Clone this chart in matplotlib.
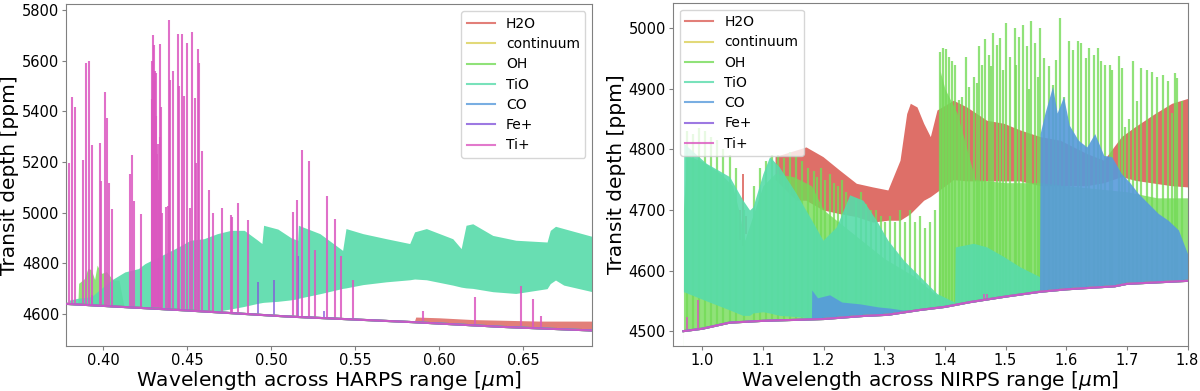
import matplotlib
matplotlib.use("Agg")
import matplotlib.pyplot as plt

# colours: seaborn "hls" palette, 7 species
species = ["H2O", "continuum", "OH", "TiO", "CO", "Fe+", "Ti+"]
colors = ["#db5f57", "#dbd057", "#74db57", "#57dbaa", "#579adb", "#8557db", "#db57c0"]
col = dict(zip(species, colors))

# ---------------- HARPS range (left panel) ----------------
harps_wl = [0.378, 0.450, 0.510, 0.584, 0.638, 0.691]
harps_cont = [4640, 4614, 4590, 4568, 4549, 4535]

tio_harps_wl = [0.380, 0.385, 0.393, 0.405, 0.413, 0.421, 0.425, 0.429, 0.437, 0.445,
                0.452, 0.460, 0.468, 0.476, 0.484, 0.492, 0.4945, 0.4955, 0.504, 0.512,
                0.5158, 0.5162, 0.529, 0.5425, 0.5445, 0.5546, 0.5685, 0.5824, 0.5853,
                0.5923, 0.608, 0.613, 0.6159, 0.6199, 0.6318, 0.6455, 0.6641, 0.6660,
                0.6691, 0.674, 0.691]
tio_harps_hi = [4655, 4662, 4668, 4734, 4766, 4779, 4799, 4812, 4838, 4865,
                4891, 4897, 4917, 4930, 4930, 4891, 4878, 4950, 4935, 4900,
                4891, 4950, 4917, 4851, 4937, 4917, 4897, 4878, 4924,
                4937, 4897, 4858, 4950, 4956, 4910, 4891, 4884, 4930,
                4946, 4937, 4906]
tio_harps_lo = [4639, 4637, 4634, 4630, 4627, 4625, 4623, 4622, 4619, 4617,
                4614, 4612, 4611, 4620, 4630, 4642, 4645, 4646, 4650, 4656,
                4660, 4662, 4680, 4701, 4703, 4716, 4727, 4735, 4738,
                4735, 4714, 4706, 4703, 4701, 4688, 4681, 4700, 4720,
                4734, 4714, 4688]

oh_harps_wl = [0.3850, 0.3855, 0.389, 0.391, 0.393, 0.395, 0.3965, 0.399, 0.402, 0.406, 0.4095, 0.4125]
oh_harps_hi = [4636, 4721, 4740, 4780, 4775, 4736, 4793, 4760, 4767, 4734, 4734, 4628]

h2o_harps_wl = [0.585, 0.586, 0.600, 0.620, 0.640, 0.660, 0.691]
h2o_harps_hi = [4568, 4588, 4585, 4578, 4575, 4572, 4572]

tip_harps_wl = [0.3800, 0.3814, 0.3836, 0.3883, 0.3901, 0.3915, 0.3933, 0.3982, 0.3988, 0.4014,
                0.4026, 0.4034, 0.4055, 0.4160, 0.4174, 0.4184, 0.4225, 0.4291, 0.4294, 0.4298,
                0.4303, 0.4306, 0.4310, 0.4314, 0.4318, 0.4322, 0.4326, 0.4330, 0.4336, 0.4340,
                0.4344, 0.4350, 0.4372, 0.4384, 0.4393, 0.4401, 0.4415, 0.4443, 0.4451, 0.4467,
                0.4482, 0.4502, 0.4518, 0.4532, 0.4546, 0.4555, 0.4563, 0.4571, 0.4589, 0.4629,
                0.4656, 0.4706, 0.4763, 0.4767, 0.4803, 0.4865, 0.5127, 0.5151, 0.5186, 0.5224,
                0.5259, 0.5333, 0.5378, 0.5413, 0.5487, 0.5904, 0.6211, 0.6487, 0.6555, 0.6602]
tip_harps_hi = [5196, 5458, 5415, 5208, 5590, 5598, 5268, 5276, 5126, 5476,
                5373, 5116, 5015, 5151, 5227, 5044, 4996, 5598, 5450, 5699,
                5660, 5520, 5559, 5380, 5549, 5230, 5271, 5130, 5664, 5300,
                5417, 5000, 5021, 5027, 5758, 5522, 5559, 5703, 5500, 5703,
                5461, 5670, 5020, 5714, 5454, 5197, 5644, 5591, 5242, 5091,
                5000, 5020, 4990, 4984, 5037, 4970, 5002, 5048, 5247, 5205,
                4854, 5066, 4976, 4828, 4734, 4612, 4668, 4711, 4658, 4593]

fep_harps_wl = [0.3937, 0.4227, 0.4919, 0.5014, 0.5161, 0.5317]
fep_harps_hi = [4675, 4773, 4727, 4734, 4828, 4612]

# ---------------- NIRPS range (right panel) ----------------
nirps_wl = [0.969, 1.000, 1.045, 1.100, 1.200, 1.265, 1.306, 1.359, 1.400, 1.442,
            1.500, 1.557, 1.600, 1.680, 1.700, 1.800]
nirps_cont = [4500, 4504, 4514, 4517, 4520, 4525, 4527, 4535, 4540, 4548,
              4557, 4565, 4569, 4574, 4578, 4583]

h2o_nirps_wl = [1.120, 1.155, 1.171, 1.199, 1.226, 1.254, 1.281,
                1.306, 1.326, 1.337, 1.343, 1.354, 1.365, 1.376, 1.387, 1.414, 1.436,
                1.469, 1.497, 1.524, 1.557, 1.590, 1.612, 1.634, 1.662, 1.691, 1.713,
                1.746, 1.774, 1.800]
h2o_nirps_hi = [4788, 4799, 4804, 4788, 4766, 4744, 4738,
                4733, 4782, 4859, 4876, 4870, 4843, 4821, 4865, 4881, 4870,
                4848, 4843, 4832, 4821, 4815, 4804, 4793, 4782, 4821, 4837,
                4859, 4876, 4884]
h2o_nirps_lo = [4750, 4716, 4716, 4700, 4694, 4689, 4680,
                4683, 4683, 4690, 4694, 4705, 4716, 4722, 4730, 4750, 4748,
                4748, 4748, 4748, 4740, 4740, 4740, 4740, 4745, 4755, 4749,
                4744, 4740, 4738]

oh_nirps_wl = [0.969, 0.975, 1.000, 1.030, 1.050, 1.060, 1.070, 1.080, 1.100, 1.120,
               1.150, 1.180, 1.200, 1.250, 1.300, 1.350, 1.385, 1.389, 1.392, 1.400,
               1.420, 1.450, 1.500, 1.557, 1.600, 1.650, 1.700, 1.750, 1.800]
oh_nirps_hi = [4700, 4790, 4780, 4760, 4740, 4700, 4650, 4680, 4740, 4760,
               4755, 4740, 4700, 4660, 4620, 4590, 4560, 4560, 4930, 4900,
               4860, 4750, 4745, 4745, 4740, 4735, 4730, 4720, 4720]

oh_lines_wl = [0.975, 0.985, 0.995, 1.005, 1.015, 1.025, 1.035, 1.045, 1.055, 1.068,
               1.085, 1.095, 1.105, 1.115, 1.125, 1.135, 1.145, 1.155, 1.165, 1.175,
               1.1835, 1.189, 1.196, 1.203, 1.210, 1.2165, 1.2236, 1.230, 1.2374, 1.2538,
               1.262, 1.2703, 1.2786, 1.2868, 1.295, 1.302, 1.310, 1.3181, 1.3264, 1.3346,
               1.3429, 1.3511, 1.3593, 1.3676, 1.3758, 1.384,
               1.3923, 1.3967, 1.4017, 1.4060, 1.4115, 1.4170, 1.4225, 1.4280, 1.4346, 1.4390,
               1.4484, 1.4530, 1.4566, 1.4610, 1.4665, 1.4720, 1.4760, 1.4791, 1.4857, 1.4912,
               1.4960, 1.5011, 1.5077, 1.5148, 1.5180, 1.5214, 1.5286, 1.5352, 1.5390, 1.5423,
               1.5489, 1.5530, 1.5560, 1.5626, 1.5709, 1.5775, 1.5835, 1.5890, 1.5956, 1.6039,
               1.6110, 1.6187, 1.6242, 1.6319, 1.6374, 1.6451, 1.6528, 1.6577, 1.6643, 1.6714,
               1.6758, 1.6874, 1.6913, 1.6970, 1.7030, 1.7094, 1.7160, 1.7231, 1.7325, 1.7407,
               1.7490, 1.7588, 1.7671, 1.7740, 1.7792, 1.7825, 1.7913]
oh_lines_hi = [4830, 4825, 4835, 4830, 4820, 4815, 4800, 4790, 4770, 4700,
               4740, 4770, 4780, 4790, 4790, 4785, 4795, 4790, 4780, 4770,
               4765, 4755, 4770, 4750, 4760, 4745, 4740, 4750, 4730, 4720,
               4730, 4710, 4700, 4700, 4690, 4680, 4690, 4680, 4700, 4680,
               4700, 4680, 4690, 4670, 4680, 4700,
               4961, 4967, 4965, 4953, 4945, 4939, 4881, 4887, 4953, 4903,
               4920, 4909, 4970, 4939, 4982, 4956, 4937, 4992, 4972, 4983,
               4931, 5009, 4953, 5000, 4940, 4986, 5005, 4970, 4900, 5011,
               4975, 4920, 5000, 4950, 4937, 4906, 4948, 5016, 4887, 4978,
               4964, 4978, 4975, 4950, 4967, 4956, 4967, 4945, 4939, 4939,
               4931, 4954, 4934, 4837, 4850, 4946, 4880, 4934, 4931, 4928,
               4920, 4923, 4912, 4860, 4926, 4917, 4880]

# a few H2O lines poking through the OH/TiO forest
h2o_lines_wl = [1.063, 1.067, 1.072]
h2o_lines_hi = [4700, 4760, 4690]
h2o_lines_lo = [4650, 4640, 4660]

tio_nirps_wl = [0.969, 0.9695, 1.0066, 1.045, 1.067, 1.078, 1.0835, 1.100, 1.111, 1.127,
                1.155, 1.177, 1.199, 1.221, 1.243, 1.265, 1.287, 1.306, 1.332, 1.359,
                1.387, 1.416, 1.417, 1.447, 1.469, 1.497, 1.524, 1.556]
tio_nirps_hi = [4565, 4810, 4777, 4755, 4716, 4700, 4705, 4760, 4788, 4771,
                4727, 4689, 4650, 4672, 4725, 4716, 4683, 4650, 4617, 4590,
                4562, 4548, 4639, 4645, 4639, 4623, 4606, 4590]
tio_nirps_lo = [4565, 4565, 4550, 4535, 4526, 4526, 4530, 4532, 4530, 4526,
                4524, 4522, 4521, 4523, 4525, 4526, 4528, 4530, 4533, 4536,
                4539, 4545, 4546, 4550, 4552, 4556, 4560, 4564]

co_nirps_wl = [1.180, 1.1805, 1.190, 1.210, 1.230, 1.260, 1.290, 1.310, 1.330, 1.345,
               1.556, 1.557, 1.565, 1.5775, 1.585, 1.5956, 1.605, 1.620, 1.634, 1.647,
               1.662, 1.675, 1.691, 1.705, 1.719, 1.735, 1.752, 1.768, 1.785, 1.800]
co_nirps_hi = [4519, 4568, 4555, 4560, 4548, 4545, 4540, 4538, 4535, 4535,
               4565, 4826, 4860, 4904, 4860, 4887, 4840, 4815, 4804, 4826,
               4790, 4788, 4760, 4745, 4727, 4711, 4694, 4683, 4667, 4628]

tip_nirps_wl = [0.975, 0.993, 1.464, 1.469]
tip_nirps_hi = [4524, 4551, 4562, 4562]

FLOOR = 4400
ALPHA = 0.8

fig = plt.figure(figsize=(12, 3.91), dpi=100)
ax1 = fig.add_axes([0.0553, 0.1159, 0.4383, 0.8726])
ax2 = fig.add_axes([0.5608, 0.1159, 0.4288, 0.8772])

# left panel
ax1.fill_between(h2o_harps_wl, FLOOR, h2o_harps_hi, color=col["H2O"], alpha=ALPHA, lw=0, zorder=1)
ax1.fill_between(oh_harps_wl, FLOOR, oh_harps_hi, color=col["OH"], alpha=ALPHA, lw=0, zorder=1)
ax1.fill_between(tio_harps_wl, tio_harps_lo, tio_harps_hi, color=col["TiO"], alpha=0.9, lw=0, zorder=1)
ax1.vlines(fep_harps_wl, FLOOR, fep_harps_hi, color=col["Fe+"], alpha=ALPHA, lw=1.3, zorder=1)
ax1.vlines(tip_harps_wl, FLOOR, tip_harps_hi, color=col["Ti+"], alpha=0.85, lw=1.5, zorder=1)
ax1.fill_between(harps_wl, FLOOR, harps_cont, color="white", lw=0, zorder=2)
for sp in species:
    ax1.plot(harps_wl, harps_cont, color=col[sp], alpha=ALPHA, lw=1.5, label=sp, zorder=3)

# right panel
ax2.fill_between(h2o_nirps_wl, h2o_nirps_lo, h2o_nirps_hi, color=col["H2O"], alpha=0.9, lw=0, zorder=1)
ax2.vlines(h2o_lines_wl, h2o_lines_lo, h2o_lines_hi, color=col["H2O"], alpha=0.9, lw=1.3, zorder=1)
ax2.fill_between(oh_nirps_wl, FLOOR, oh_nirps_hi, color=col["OH"], alpha=ALPHA, lw=0, zorder=1)
ax2.vlines(oh_lines_wl, FLOOR, oh_lines_hi, color=col["OH"], alpha=ALPHA, lw=1.6, zorder=1)
ax2.fill_between(tio_nirps_wl, tio_nirps_lo, tio_nirps_hi, color=col["TiO"], alpha=0.9, lw=0, zorder=1)
ax2.fill_between(co_nirps_wl, FLOOR, co_nirps_hi, color=col["CO"], alpha=0.9, lw=0, zorder=1)
ax2.vlines(tip_nirps_wl, FLOOR, tip_nirps_hi, color=col["Ti+"], alpha=0.85, lw=1.3, zorder=1)
ax2.fill_between(nirps_wl, FLOOR, nirps_cont, color="white", lw=0, zorder=2)
for sp in species:
    ax2.plot(nirps_wl, nirps_cont, color=col[sp], alpha=ALPHA, lw=1.5, label=sp, zorder=3)

ax1.set_xlim(0.3782, 0.691)
ax1.set_ylim(4475, 5821)
ax2.set_xlim(0.9517, 1.80)
ax2.set_ylim(4476, 5042)

ax1.set_xlabel(r"Wavelength across HARPS range [$\mu$m]", fontsize=14.5, labelpad=1)
ax2.set_xlabel(r"Wavelength across NIRPS range [$\mu$m]", fontsize=14.5, labelpad=1)
for ax in (ax1, ax2):
    ax.set_ylabel("Transit depth [ppm]", fontsize=14.5, labelpad=2)
    ax.tick_params(labelsize=10.5, color="gray", length=3, pad=2)
    for s in ax.spines.values():
        s.set_color("gray")
ax1.legend(loc="upper right", fontsize=10, labelspacing=0.45)
ax2.legend(loc="upper left", fontsize=10, labelspacing=0.45)

fig.savefig("out.png", dpi=100)
